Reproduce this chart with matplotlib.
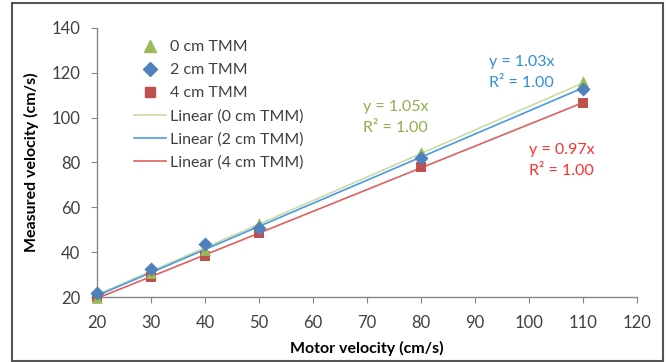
import matplotlib
matplotlib.use("Agg")
import matplotlib.pyplot as plt
import numpy as np
from matplotlib.patches import Rectangle
from matplotlib.lines import Line2D

plt.rcParams['font.family'] = ['Lato', 'DejaVu Sans']

motor = [20, 30, 40, 50, 80, 110]
tmm0 = [19.5, 30.5, 41, 53, 84.5, 116.5]
tmm2 = [22, 32.5, 43.5, 51, 82, 113]
tmm4 = [20, 29, 38.5, 48.5, 78, 106.5]
slopes = [1.05, 1.03, 0.97]
names = ["0 cm TMM", "2 cm TMM", "4 cm TMM"]
xticks = [20, 30, 40, 50, 60, 70, 80, 90, 100, 110, 120]
yticks = [20, 40, 60, 80, 100, 120, 140]

W, H = 666, 362
fig = plt.figure(figsize=(W/100, H/100), dpi=100)
ax = fig.add_axes([97/W, 1-297/H, (637-97)/W, (297-28)/H])

mcol = ['#9BBB59', '#4F81BD', '#C0504D']
lcol = ['#C9DCA6', '#4A9AE0', '#E06060']
tcol = ['#8DAE4C', '#2E8FD9', '#FF3030']
markers = ['^', 'D', 's']
msz = [60, 52, 42]

series = [tmm0, tmm2, tmm4]
order = [2, 0, 1]
for i in order:
    ax.scatter(motor, series[i], marker=markers[i], s=msz[i], color=mcol[i], zorder=3, linewidths=0, clip_on=False)
xl = np.array([motor[0], motor[-1]])
for i in range(3):
    ax.plot(xl, slopes[i]*xl, color=lcol[i], lw=1.2, zorder=2)

ax.set_xlim(20, 120)
ax.set_ylim(20, 140)
ax.set_xticks(xticks)
ax.set_yticks(yticks)
for s in ['top', 'right']:
    ax.spines[s].set_visible(False)
for s in ['left', 'bottom']:
    ax.spines[s].set_color('#868686')
    ax.spines[s].set_linewidth(1.0)
ax.tick_params(colors='#868686', labelcolor='#404040', labelsize=12, length=4, direction='out')
ax.tick_params(axis='y', pad=8)
ax.tick_params(axis='x', pad=9)
ax.set_xlabel("Motor velocity (cm/s)", fontsize=11.5, fontweight='bold', color='#000000', labelpad=7)
ax.set_ylabel("Measured velocity (cm/s)", fontsize=11.5, fontweight='bold', color='#000000', labelpad=9)

handles = [Line2D([], [], ls='none', marker=markers[i], color=mcol[i], markersize=[8.5, 7.5, 7][i]) for i in range(3)]
handles += [Line2D([], [], color=lcol[i], lw=1.2) for i in range(3)]
labels = names + ["Linear (%s)" % n for n in names]
leg = ax.legend(handles, labels, loc='upper left', bbox_to_anchor=(126/W, 1-32/H), bbox_transform=fig.transFigure,
                frameon=False, fontsize=11.5, labelspacing=0.55, handlelength=2.0, handletextpad=0.25,
                borderpad=0)
for t in leg.get_texts():
    t.set_color('#404040')

eq_pos = [(363, 107), (489, 62), (529, 150)]
for i in range(3):
    x, y = eq_pos[i]
    fig.text(x/W, 1-y/H, "y = %.2fx" % slopes[i], color=tcol[i], fontsize=11.5, va='center', ha='left')
    fig.text(x/W, 1-(y+21)/H, "R² = 1.00", color=tcol[i], fontsize=11.5, va='center', ha='left')

fig.patches.append(Rectangle((12/W, 1-361/H), (663-12)/W, (361-3)/H, transform=fig.transFigure,
                             fill=False, edgecolor='#555555', lw=1.5))

fig.savefig("out.png", dpi=100)
